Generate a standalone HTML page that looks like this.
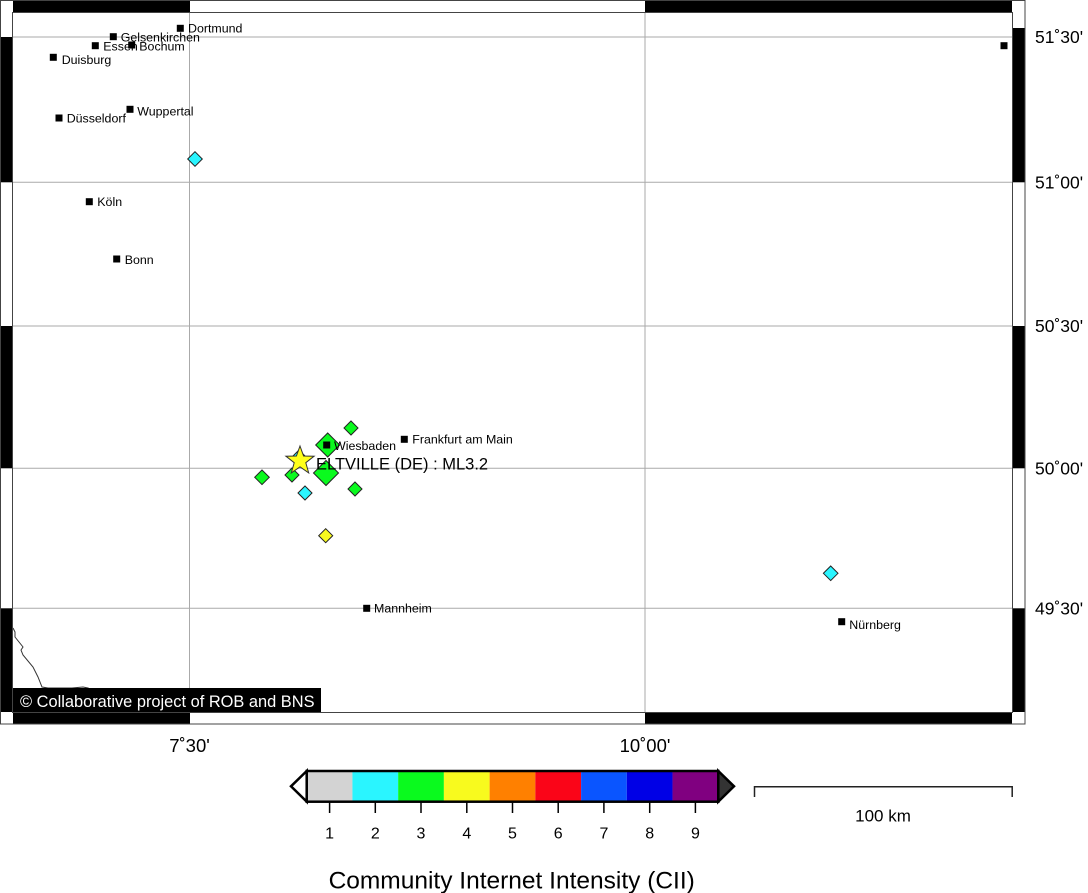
<!DOCTYPE html>
<html><head><meta charset="utf-8"><style>
html,body{margin:0;padding:0;background:#fff;}
svg{display:block;}
text{font-family:"Liberation Sans",sans-serif;}
</style></head><body>
<svg width="1088" height="893" viewBox="0 0 1088 893" xmlns="http://www.w3.org/2000/svg">
<rect x="0" y="0" width="1088" height="893" fill="#fff"/>
<!-- grid -->
<g stroke="#aaa" stroke-width="1">
<line x1="13" y1="37" x2="1012" y2="37"/>
<line x1="13" y1="182.3" x2="1012" y2="182.3"/>
<line x1="13" y1="326" x2="1012" y2="326"/>
<line x1="13" y1="468.3" x2="1012" y2="468.3"/>
<line x1="13" y1="608.3" x2="1012" y2="608.3"/>
<line x1="189.5" y1="13" x2="189.5" y2="712"/>
<line x1="645" y1="13" x2="645" y2="712"/>
</g>
<!-- coastline -->
<polyline fill="none" stroke="#333" stroke-width="1" points="13,628 15,632 15,637 23,647 21,650 23,655 33,667 38,677 42,687 48,688 60,688 72,688 83,687 88,688 92,690"/>
<!-- diamonds -->
<g stroke="#222" stroke-width="1">
<polygon fill="#2af5ff" points="195,151.7 202.3,159 195,166.3 187.7,159"/>
<polygon fill="#2af5ff" points="830.7,566 838,573.3 830.7,580.6 823.4,573.3"/>
<polygon fill="#0afa1e" points="351,421 358,428 351,435 344,428"/>
<polygon fill="#0afa1e" points="327.7,433 339.7,445 327.7,457 315.7,445"/>
<polygon fill="#0afa1e" points="326,460.5 338.5,473 326,485.5 313.5,473"/>
<polygon fill="#0afa1e" points="262,470 269.3,477.3 262,484.6 254.7,477.3"/>
<polygon fill="#0afa1e" points="292,468 299,475 292,482 285,475"/>
<polygon fill="#2af5ff" points="305,486 312,493 305,500 298,493"/>
<polygon fill="#0afa1e" points="355,482 362,489 355,496 348,489"/>
<polygon fill="#f8fa1e" points="325.7,528.7 332.7,535.7 325.7,542.7 318.7,535.7"/>
<polygon fill="#2af5ff" points="299,450 306,457 299,464 292,457"/>
</g>
<!-- star -->
<polygon fill="#ffff1a" stroke="#333" stroke-width="1" points="300.0,446.0 303.6,456.0 314.1,456.2 305.8,462.7 308.7,472.9 300.0,466.9 291.3,472.9 294.2,462.7 285.9,456.2 296.4,456.0"/>
<!-- cities -->
<g fill="#000">
<rect x="176.8" y="24.8" width="7" height="7"/>
<rect x="109.8" y="33.2" width="7" height="7"/>
<rect x="91.8" y="42.2" width="7" height="7"/>
<rect x="128.2" y="41.5" width="7" height="7"/>
<rect x="49.8" y="53.8" width="7" height="7"/>
<rect x="126.5" y="105.8" width="7" height="7"/>
<rect x="55.5" y="114.5" width="7" height="7"/>
<rect x="85.8" y="198.2" width="7" height="7"/>
<rect x="113.2" y="255.5" width="7" height="7"/>
<rect x="323.2" y="441.5" width="7" height="7"/>
<rect x="400.8" y="435.8" width="7" height="7"/>
<rect x="363.2" y="604.8" width="7" height="7"/>
<rect x="838.2" y="618.2" width="7" height="7"/>
<rect x="1000.5" y="42.2" width="7" height="7"/>
</g>
<g font-size="12.4" fill="#000">
<text x="188" y="32.7">Dortmund</text>
<text x="120.7" y="41.7">Gelsenkirchen</text>
<text x="103.3" y="50.7">Essen</text>
<text x="139.3" y="50.7">Bochum</text>
<text x="61.7" y="64">Duisburg</text>
<text x="137.3" y="115.3">Wuppertal</text>
<text x="66.7" y="122.7">Düsseldorf</text>
<text x="97.3" y="206">Köln</text>
<text x="124.7" y="264">Bonn</text>
<text x="334" y="450">Wiesbaden</text>
<text x="412.3" y="443.3">Frankfurt am Main</text>
<text x="374" y="612.7">Mannheim</text>
<text x="849.3" y="629">Nürnberg</text>
</g>
<text x="316" y="469.3" font-size="16.5" fill="#000">ELTVILLE (DE) : ML3.2</text>
<!-- copyright -->
<rect x="13" y="688" width="308" height="24.5" fill="#000"/>
<text x="20" y="707" font-size="16.4" fill="#fff">© Collaborative project of ROB and BNS</text>
<!-- frame -->
<g fill="#000">
<rect x="13" y="0.5" width="177" height="12.5"/>
<rect x="645" y="0.5" width="367" height="12.5"/>
<rect x="13" y="712" width="177" height="12"/>
<rect x="645" y="712" width="367" height="12"/>
<rect x="0.5" y="37" width="12.5" height="145.3"/>
<rect x="0.5" y="326" width="12.5" height="142.3"/>
<rect x="0.5" y="608.3" width="12.5" height="103.7"/>
<rect x="1012" y="28" width="12.5" height="154.3"/>
<rect x="1012" y="326" width="12.5" height="142.3"/>
<rect x="1012" y="608.3" width="12.5" height="103.7"/>
</g>
<rect x="0.5" y="0.5" width="1024.5" height="723.5" fill="none" stroke="#444" stroke-width="1"/>
<rect x="12.5" y="12.5" width="1000" height="700" fill="none" stroke="#444" stroke-width="1"/>
<!-- axis labels -->
<g font-size="17.5" fill="#000">
<text x="1035" y="43">51˚30'</text>
<text x="1035" y="188.3">51˚00'</text>
<text x="1035" y="332">50˚30'</text>
<text x="1035" y="474.3">50˚00'</text>
<text x="1035" y="614.3">49˚30'</text>
</g>
<g font-size="18.5" fill="#000" text-anchor="middle">
<text x="189.5" y="752">7˚30'</text>
<text x="645" y="752">10˚00'</text>
</g>
<!-- colorbar -->
<g>
<rect x="306.7" y="771" width="45.73" height="30.7" fill="#d3d3d3"/>
<rect x="352.43" y="771" width="45.73" height="30.7" fill="#2af5ff"/>
<rect x="398.16" y="771" width="45.73" height="30.7" fill="#0afa1e"/>
<rect x="443.89" y="771" width="45.73" height="30.7" fill="#f8fa1e"/>
<rect x="489.62" y="771" width="45.73" height="30.7" fill="#ff8000"/>
<rect x="535.35" y="771" width="45.73" height="30.7" fill="#fa0518"/>
<rect x="581.08" y="771" width="45.73" height="30.7" fill="#0a55ff"/>
<rect x="626.81" y="771" width="45.73" height="30.7" fill="#0000e6"/>
<rect x="672.54" y="771" width="45.76" height="30.7" fill="#800080"/>
<rect x="306.7" y="771" width="411.6" height="30.7" fill="none" stroke="#000" stroke-width="2.5"/>
<polygon points="306.7,771 291,786.3 306.7,801.7" fill="#fff" stroke="#000" stroke-width="2.5" stroke-linejoin="miter"/>
<polygon points="718.3,771 734,786.3 718.3,801.7" fill="#333" stroke="#000" stroke-width="2.5" stroke-linejoin="miter"/>
</g>
<g stroke="#000" stroke-width="1.5">
<line x1="329.6" y1="802" x2="329.6" y2="813"/>
<line x1="375.3" y1="802" x2="375.3" y2="813"/>
<line x1="421" y1="802" x2="421" y2="813"/>
<line x1="466.8" y1="802" x2="466.8" y2="813"/>
<line x1="512.5" y1="802" x2="512.5" y2="813"/>
<line x1="558.2" y1="802" x2="558.2" y2="813"/>
<line x1="603.9" y1="802" x2="603.9" y2="813"/>
<line x1="649.7" y1="802" x2="649.7" y2="813"/>
<line x1="695.4" y1="802" x2="695.4" y2="813"/>
</g>
<g font-size="16" fill="#000" text-anchor="middle">
<text x="329.6" y="838.3">1</text>
<text x="375.3" y="838.3">2</text>
<text x="421" y="838.3">3</text>
<text x="466.8" y="838.3">4</text>
<text x="512.5" y="838.3">5</text>
<text x="558.2" y="838.3">6</text>
<text x="603.9" y="838.3">7</text>
<text x="649.7" y="838.3">8</text>
<text x="695.4" y="838.3">9</text>
</g>
<text x="511.7" y="888.3" font-size="24.5" fill="#000" text-anchor="middle">Community Internet Intensity (CII)</text>
<!-- scale bar -->
<polyline points="754.5,797 754.5,786.7 1012.2,786.7 1012.2,797" fill="none" stroke="#222" stroke-width="1.5"/>
<text x="883" y="821.7" font-size="17" fill="#000" text-anchor="middle">100 km</text>
</svg>
</body></html>
